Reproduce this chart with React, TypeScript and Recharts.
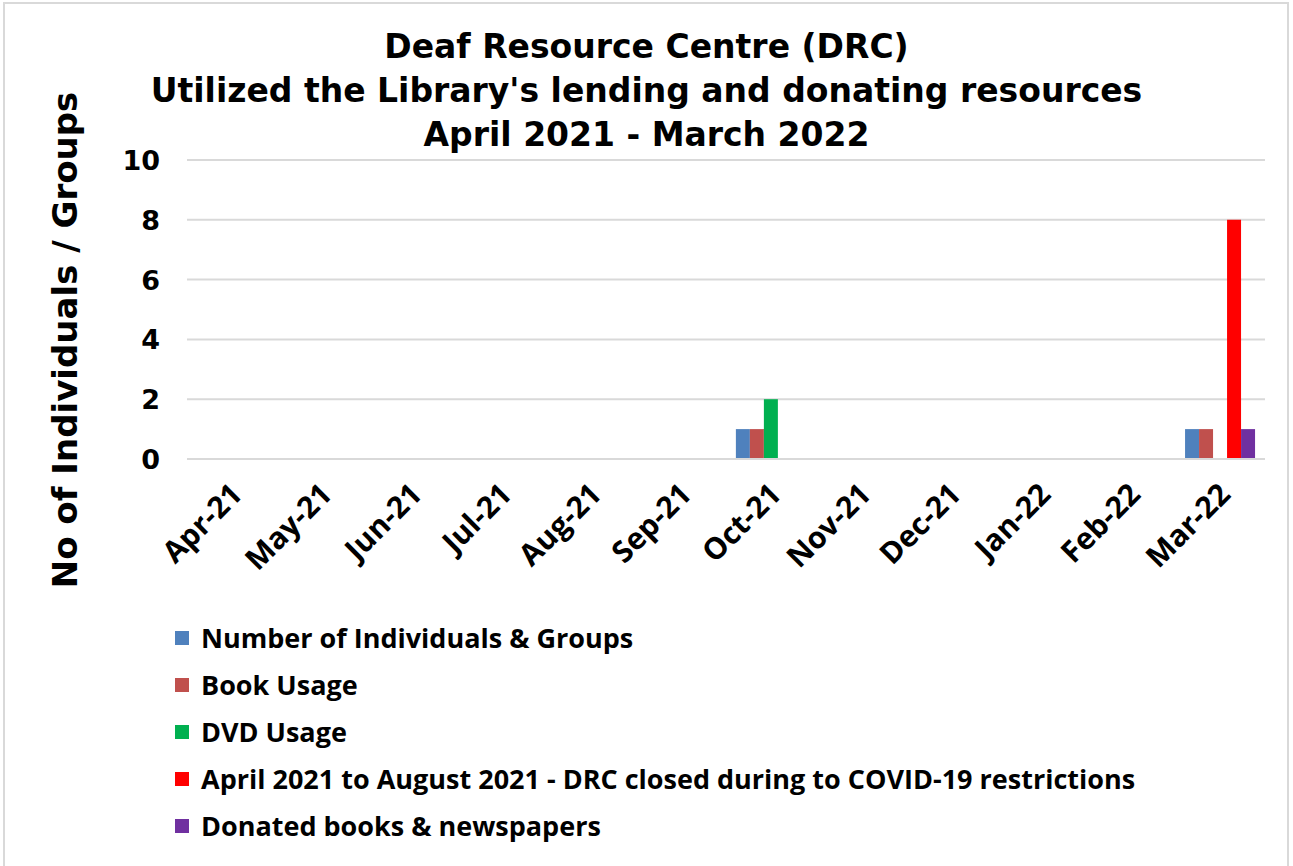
import React from 'react';
import { BarChart, Bar, XAxis, YAxis, CartesianGrid } from 'recharts';

const months = ['Apr-21','May-21','Jun-21','Jul-21','Aug-21','Sep-21','Oct-21','Nov-21','Dec-21','Jan-22','Feb-22','Mar-22'];
const individuals = [0,0,0,0,0,0,1,0,0,0,0,1];
const bookUsage = [0,0,0,0,0,0,1,0,0,0,0,1];
const dvdUsage = [0,0,0,0,0,0,2,0,0,0,0,0];
const covidClosed = [0,0,0,0,0,0,0,0,0,0,0,8];
const donated = [0,0,0,0,0,0,0,0,0,0,0,1];
const yTicks = [0,2,4,6,8,10];

const seriesNames = [
  'Number of Individuals & Groups',
  'Book Usage',
  'DVD Usage',
  'April 2021 to August 2021 - DRC closed during to COVID-19 restrictions',
  'Donated books & newspapers',
];
const seriesKeys = ['ind','book','dvd','covid','don'];
const seriesColors = ['#4F81BD','#C0504D','#00B050','#FF0000','#7030A0'];

const data = months.map((m, i) => ({
  month: m,
  ind: individuals[i],
  book: bookUsage[i],
  dvd: dvdUsage[i],
  covid: covidClosed[i],
  don: donated[i],
}));

const titleFont = '"DejaVu Sans", sans-serif';
const bodyFont = '"Open Sans", Lato, sans-serif';

const XTick = (props: any) => {
  const { x, y, payload } = props;
  const ax = x + 12;
  const ay = y + 29;
  return (
    <text x={ax} y={ay} transform={`rotate(-45, ${ax}, ${ay})`} textAnchor="end"
      fontFamily={bodyFont} fontWeight={700} fontSize={30} fill="#000">
      {payload.value}
    </text>
  );
};

const YTick = (props: any) => {
  const { x, y, payload } = props;
  return (
    <text x={x - 19} y={y} dy={10} textAnchor="end" fontFamily={titleFont}
      fontWeight={700} fontSize={27} fill="#000">
      {payload.value}
    </text>
  );
};

export default function App() {
  return (
    <div style={{ position: 'absolute', left: 0, top: 0, width: 1293, height: 866, background: '#fff' }}>
      <div style={{ position: 'absolute', left: 3, top: 2, width: 1286, height: 870, border: '2px solid #d9d9d9', boxSizing: 'border-box' }} />
      <div style={{ position: 'absolute', left: 0, top: 25, width: 1293, textAlign: 'center', fontFamily: titleFont, fontWeight: 700, fontSize: 33, lineHeight: '44px', color: '#000' }}>
        <div>Deaf Resource Centre (DRC)</div>
        <div>Utilized the Library's lending and donating resources</div>
        <div>April 2021 - March 2022</div>
      </div>
      <div style={{ position: 'absolute', left: 0, top: 0 }}>
        <BarChart width={1293} height={866} data={data}
          margin={{ top: 160, right: 28, bottom: 307, left: 127 }}
          barCategoryGap="11%" barGap={0}>
          <CartesianGrid vertical={false} stroke="#d9d9d9" strokeWidth={2} />
          <XAxis dataKey="month" axisLine={{ stroke: '#d9d9d9', strokeWidth: 2 }} tickLine={false}
            tick={<XTick />} interval={0} height={100} />
          <YAxis domain={[0, 10]} ticks={yTicks} axisLine={false} tickLine={false}
            tick={<YTick />} width={60} />
          {seriesKeys.map((k, i) => (
            <Bar key={k} dataKey={k} name={seriesNames[i]} fill={seriesColors[i]} isAnimationActive={false} />
          ))}
        </BarChart>
      </div>
      <svg style={{ position: 'absolute', left: 0, top: 0 }} width={120} height={866}>
        <text x={0} y={0} transform="translate(77, 340) rotate(-90)" textAnchor="middle"
          fontFamily={titleFont} fontWeight={700} fontSize={34} fill="#000">
          No of Individuals / Groups
        </text>
      </svg>
      <div style={{ position: 'absolute', left: 175, top: 614 }}>
        {seriesNames.map((n, i) => (
          <div key={n} style={{ display: 'flex', alignItems: 'center', height: 47 }}>
            <span style={{ display: 'inline-block', width: 14, height: 14, background: seriesColors[i], marginRight: 12 }} />
            <span style={{ fontFamily: bodyFont, fontWeight: 700, fontSize: 27, color: '#000', whiteSpace: 'nowrap' }}>{n}</span>
          </div>
        ))}
      </div>
    </div>
  );
}
